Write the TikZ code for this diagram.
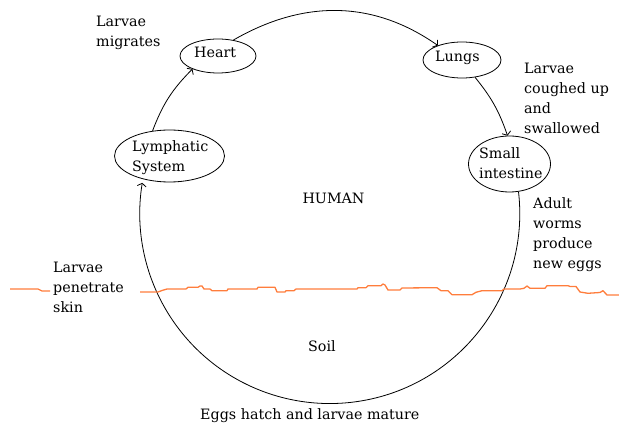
\documentclass[tikz,border=0pt]{standalone}
\usepackage{fontspec}
\setmainfont{DejaVu Serif}
\newfontfamily\diagfont{DejaVu Serif}
\usetikzlibrary{shapes.geometric,arrows.meta}
\definecolor{soilline}{RGB}{255,125,60}
\tikzset{
  organ/.style={draw, ellipse, line width=0.8pt, inner sep=0pt},
  txt/.style={font=\diagfont\fontsize{14.3}{20}\selectfont, inner sep=0pt, align=left},
  conn/.style={line width=0.8pt, -{Straight Barb[length=3pt,width=9pt]}},
  soilstroke/.style={draw=soilline, line width=1.3pt, line join=round},
}
\begin{document}
\begin{tikzpicture}[x=1pt,y=1pt]
\useasboundingbox (0,0) rectangle (619,423);
% organs
\node[organ, minimum width=76pt, minimum height=34pt] (heart) at (218,367) {};
\node[organ, minimum width=110pt, minimum height=52pt] (lymph) at (169.5,267) {};
\node[organ, minimum width=78pt, minimum height=36pt] (lungs) at (462,363) {};
\node[organ, minimum width=82pt, minimum height=56pt] (si) at (509.5,259) {};
% organ labels
\node[txt, anchor=base west] (heartlbl) at (194,365.4) {Heart};
\node[txt, anchor=base west] (lungslbl) at (435,361.4) {Lungs};
\node[txt, anchor=north west] (lymphlbl) at (132,282.4) {Lymphatic\\System};
\node[txt, anchor=north west] (silbl) at (479,275.4) {Small\\intestine};
% connectors
\draw[conn] (heart.46) to[out=30,in=145] (lungs.149);
\draw[conn] (lungs.-53) to[bend left=10] (si.94);
\draw[conn] (si.-72) arc[start angle=6.6, end angle=-189.3, radius=190pt];
\draw[conn] (lymph.124) to[bend left=12] (heart.-153);
% soil surface
\draw[soilstroke] (10,134) -- (38,134) -- (42,132) -- (50,132);
\draw[soilstroke] (140,131) -- (158,131) -- (162,132.5) -- (167,134) -- (186,134) -- (188,135.7) -- (198,135.7) -- (200,137) -- (202,137) -- (204,134) -- (210,134) -- (212,132.3) -- (227,132.3) -- (228,134) -- (257,134) -- (258,135.7) -- (275,135.7) -- (277,131) -- (285,131) -- (286,132.3) -- (294,132.3) -- (296,134) -- (357,134) -- (358,135.3) -- (366,135.3) -- (368,137.3) -- (381,137.3) -- (383,139) -- (385,138) -- (388,133) -- (400,133) -- (402,135) -- (437,135.3) -- (441,132.3) -- (448,132.3) -- (452,128.3) -- (472,128.3) -- (476,130.7) -- (482,132.3) -- (502,132.3) -- (504,134) -- (520,134) -- (524,134.7) -- (527,137) -- (530,134.7) -- (545,134.7) -- (547,137.3) -- (568,137.3) -- (570,136.5) -- (576,136.5) -- (580,131) -- (588,129.7) -- (600,130.5) -- (603,132.3) -- (607,128) -- (619,128);
% annotations
\node[txt, anchor=north west] (migr) at (96,407) {Larvae\\migrates};
\node[txt, anchor=north west] (cough) at (524,360.6) {Larvae\\coughed up\\and\\swallowed};
\node[txt, anchor=north west] (adult) at (533,226) {Adult\\worms\\produce\\new eggs};
\node[txt, anchor=north west] (pen) at (53,161.6) {Larvae\\penetrate\\skin};
\node[txt, anchor=base] (human) at (333.5,219) {HUMAN};
\node[txt, anchor=base west] (soil) at (308,71) {Soil};
\node[txt, anchor=base west] (eggs) at (200,3) {Eggs hatch and larvae mature};
\end{tikzpicture}
\end{document}
